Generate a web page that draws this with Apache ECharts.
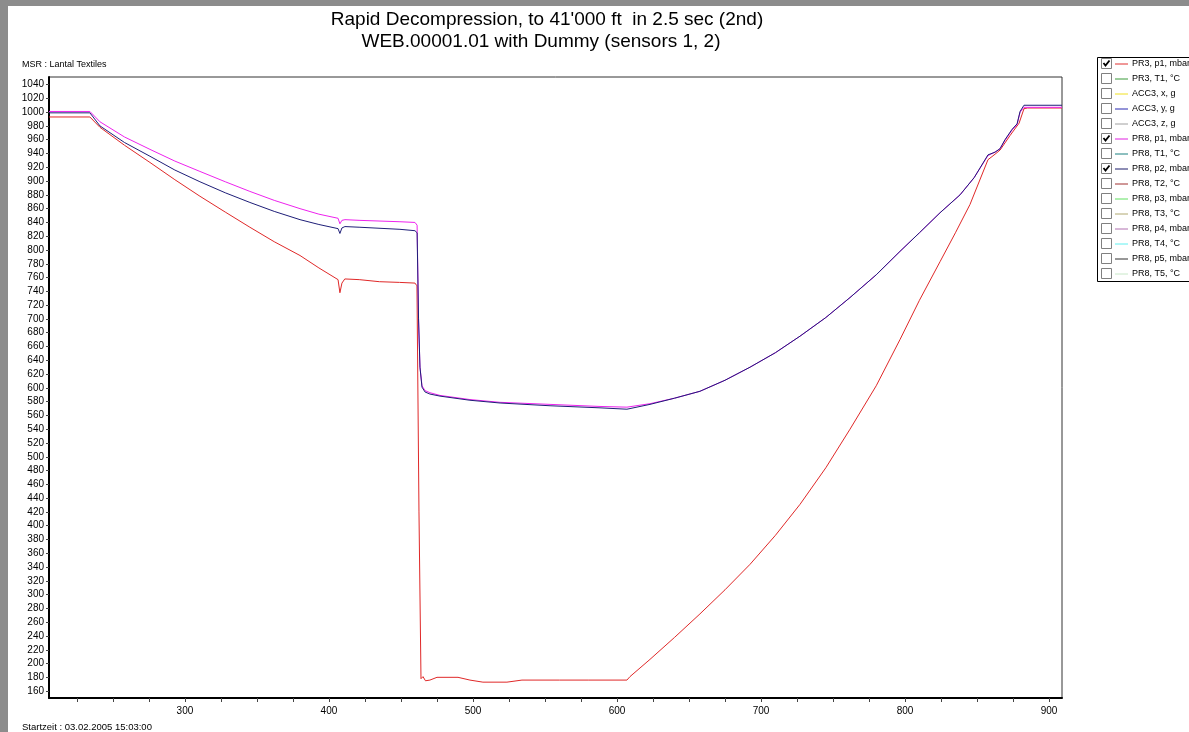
<!DOCTYPE html>
<html><head><meta charset="utf-8">
<script src="https://cdn.jsdelivr.net/npm/echarts@6/dist/echarts.min.js"></script>
<style>html,body{margin:0;padding:0;background:#fff}#c{width:1189px;height:732px}</style>
</head><body><div id="c"></div>
<script>
const titleLine1 = "Rapid Decompression, to 41'000 ft  in 2.5 sec (2nd)";
const titleLine2 = "WEB.00001.01 with Dummy (sensors 1, 2)";
const topNote = "MSR : Lantal Textiles";
const bottomNote = "Startzeit : 03.02.2005 15:03:00";

const xTickLabels = [300, 400, 500, 600, 700, 800, 900];
const xMinorTicks = [225, 250, 275, 300, 325, 350, 375, 400, 425, 450, 475, 500, 525, 550, 575, 600, 625, 650, 675, 700, 725, 750, 775, 800, 825, 850, 875, 900];
const yTickLabels = [160, 180, 200, 220, 240, 260, 280, 300, 320, 340, 360, 380, 400, 420, 440, 460, 480, 500, 520, 540, 560, 580, 600, 620, 640, 660, 680, 700, 720, 740, 760, 780, 800, 820, 840, 860, 880, 900, 920, 940, 960, 980, 1000, 1020, 1040];

const legendNames = ["PR3, p1, mbar", "PR3, T1, °C", "ACC3, x, g", "ACC3, y, g", "ACC3, z, g", "PR8, p1, mbar", "PR8, T1, °C", "PR8, p2, mbar", "PR8, T2, °C", "PR8, p3, mbar", "PR8, T3, °C", "PR8, p4, mbar", "PR8, T4, °C", "PR8, p5, mbar", "PR8, T5, °C"];
const legendColors = ["#e03030", "#3a9a3a", "#f0e020", "#2828b0", "#a0a0a0", "#e020e0", "#1a8080", "#1c1c6a", "#a03030", "#60e060", "#b0a870", "#b070b0", "#60f0f0", "#303030", "#c8e8c8"];
const legendChecked = [true, false, false, false, false, true, false, true, false, false, false, false, false, false, false];

// PR3, p1 (red)
const pr3_p1 = [
  [205.6, 993], [234, 993], [241, 978], [258, 952], [275.7, 927], [293, 902], [310.4, 878], [328, 855], [345.1, 833], [362, 812], [379.9, 792], [393, 774], [406.3, 757],
  [407.6, 738], [409, 752], [411, 758], [421, 757], [435, 754], [449, 753], [459.7, 752], [461.1, 748],
  [462.5, 420], [463.9, 178], [465.3, 181], [467, 175], [470.1, 176], [475, 180], [489.6, 180], [497.9, 176],
  [506.9, 173], [523.6, 173], [534, 176], [560, 176], [580, 176], [606.9, 176], [609, 181], [622.9, 206],
  [640, 238], [657.6, 272], [675, 307], [692.4, 344], [710, 386], [727.1, 431], [745, 484], [761.8, 540], [780, 603], [796.5, 670], [810, 727], [824.3, 783], [835, 825], [845.1, 866],
  [857.6, 931], [862.5, 939], [866, 945], [872.9, 966], [879.2, 984], [882.6, 1005], [885, 1006], [909, 1006]
];
// PR8, p1 (magenta)
const pr8_p1 = [
  [205.6, 1001], [234, 1001], [241, 986], [258, 964], [275.7, 946], [293, 929], [310.4, 914], [328, 899], [345.1, 885], [362, 872], [379.9, 860], [393, 852], [406.3, 846],
  [407.6, 838], [409, 843], [411.1, 844], [421.5, 843], [449.3, 841], [459.7, 840], [461.2, 836],
  [462.2, 700], [463.2, 630], [464.6, 603], [466.7, 596], [470.1, 593], [477.1, 589], [497.9, 583],
  [518.8, 579], [553.5, 576], [588.2, 573], [606.9, 572], [622.9, 577], [640, 585], [657.6, 595], [675, 611], [692.4, 630],
  [710, 651], [727.1, 675], [745, 702], [761.8, 731], [780, 764], [796.5, 798], [810, 825], [824.3, 854], [838.2, 880], [848, 905], [857.6, 937], [862.5, 942],
  [866, 947], [869.4, 959], [874.3, 974], [877.8, 982], [879.9, 1000], [882.6, 1007], [909, 1007]
];
// PR8, p2 (navy)
const pr8_p2 = [
  [205.6, 999], [234, 999], [241, 980], [258, 956], [275.7, 936], [293, 916], [310.4, 899], [328, 883], [345.1, 869], [362, 856], [379.9, 844], [393, 837], [406.3, 831],
  [407.6, 824], [409, 832], [411.1, 834], [421.5, 833], [449.3, 830], [459.7, 828], [461.2, 825],
  [462.2, 700], [463.2, 630], [464.6, 601], [466.7, 594], [470.1, 591], [477.1, 588], [497.9, 582],
  [518.8, 578], [553.5, 574], [588.2, 571], [606.9, 569], [622.9, 576], [640, 585], [657.6, 595], [675, 611], [692.4, 630],
  [710, 651], [727.1, 675], [745, 702], [761.8, 731], [780, 764], [796.5, 798], [810, 825], [824.3, 854], [838.2, 880], [848, 905], [857.6, 938], [862.5, 942],
  [866, 947], [869.4, 960], [874.3, 975], [877.8, 983], [879.9, 1001], [882.6, 1010], [909, 1010]
];

const FONT = '"Liberation Sans", Arial, sans-serif';
const chart = echarts.init(document.getElementById('c'), null, {renderer: 'canvas'});

const graphics = [
  {type: 'rect', shape: {x: 0, y: 0, width: 1189, height: 6}, style: {fill: '#8c8c8c'}, silent: true},
  {type: 'rect', shape: {x: 0, y: 0, width: 8, height: 732}, style: {fill: '#8c8c8c'}, silent: true},
  {type: 'text', x: 547, y: 20, style: {text: titleLine1, fontSize: 19, fontFamily: FONT, fill: '#000', align: 'center', verticalAlign: 'middle'}},
  {type: 'text', x: 541, y: 42, style: {text: titleLine2, fontSize: 19, fontFamily: FONT, fill: '#000', align: 'center', verticalAlign: 'middle'}},
  {type: 'text', x: 22, y: 65, style: {text: topNote, fontSize: 9, fontFamily: FONT, fill: '#000', align: 'left', verticalAlign: 'middle'}},
  {type: 'text', x: 22, y: 727, style: {text: bottomNote, fontSize: 9.5, fontFamily: FONT, fill: '#000', align: 'left', verticalAlign: 'middle'}},
  {type: 'rect', shape: {x: 1097.5, y: 57.5, width: 100, height: 224}, style: {fill: '#fff', stroke: '#000', lineWidth: 1}}
];
legendNames.forEach(function (name, i) {
  const y = 63.5 + i * 15;
  graphics.push({type: 'rect', shape: {x: 1101.5, y: y - 5, width: 10, height: 10}, style: {fill: '#fff', stroke: '#808080', lineWidth: 1}});
  if (legendChecked[i]) {
    graphics.push({type: 'polyline', shape: {points: [[1103.5, y - 0.5], [1105.5, y + 2], [1109.5, y - 3]]}, style: {stroke: '#000', lineWidth: 1.8, fill: null}});
  }
  graphics.push({type: 'line', shape: {x1: 1115, y1: y + 0.5, x2: 1128, y2: y + 0.5}, style: {stroke: legendColors[i], lineWidth: 1}});
  graphics.push({type: 'text', x: 1132, y: y, style: {text: name, fontSize: 9, fontFamily: FONT, fill: '#000', align: 'left', verticalAlign: 'middle'}});
});

function lineSeries(name, data, color, z) {
  return {name: name, type: 'line', data: data, showSymbol: false, symbol: 'none', z: z,
    lineStyle: {color: color, width: 1}, itemStyle: {color: color}, animation: false};
}
function plain(v) { return String(v); }

chart.setOption({
  animation: false,
  backgroundColor: '#fff',
  grid: {left: 49, right: 127, top: 77, bottom: 34, show: true, borderColor: '#333', borderWidth: 1, backgroundColor: '#fff'},
  xAxis: {
    type: 'value', min: 205.6, max: 909,
    axisLine: {show: true, onZero: false, lineStyle: {color: '#000', width: 2}},
    axisTick: {show: true, customValues: xMinorTicks, length: 4, lineStyle: {color: '#444'}},
    axisLabel: {customValues: xTickLabels, formatter: plain, fontSize: 10, fontFamily: FONT, color: '#000', margin: 8},
    splitLine: {show: false}
  },
  yAxis: {
    type: 'value', min: 150, max: 1051,
    axisLine: {show: true, onZero: false, lineStyle: {color: '#000', width: 2}},
    axisTick: {show: true, customValues: yTickLabels, length: 3, lineStyle: {color: '#444'}},
    axisLabel: {customValues: yTickLabels, formatter: plain, fontSize: 10, fontFamily: FONT, color: '#000', margin: 5},
    splitLine: {show: false}
  },
  series: [
    lineSeries(legendNames[0], pr3_p1, '#e02828', 2),
    lineSeries(legendNames[5], pr8_p1, '#ee22ee', 3),
    lineSeries(legendNames[7], pr8_p2, '#1e1e78', 4)
  ],
  graphic: graphics
});
</script>
</body></html>
